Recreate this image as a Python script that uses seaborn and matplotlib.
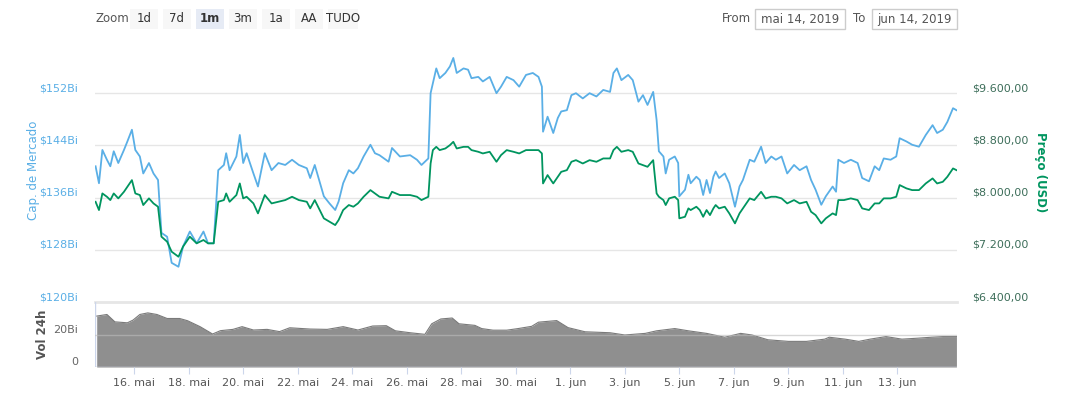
import matplotlib
matplotlib.use("Agg")
import matplotlib.pyplot as plt
from matplotlib.patches import Rectangle
import seaborn as sns
import pandas as pd

# hours since 2019-05-14 00:00
hours = [14,17,20,24,27,30,34,39,42,46,49,53,56,61,65,69,72,77,81,87,91,97,103,109,113,118,122,127,129,132,138,141,144,147,153,157,163,169,175,181,187,193,200,203,207,215,220,225,228,232,237,241,245,250,256,260,264,272,
         275,282,291,297,301,307,309,311,314,317,322,326,329,332,338,342,345,351,355,361,367,371,376,382,387,393,399,404,407,408,412,417,421,424,429,433,437,443,449,455,461,467,470,473,477,483,487,492,496,500,505,508,510,514,516,519,524,527,
         528,533,536,538,543,546,549,552,555,558,560,563,568,572,577,581,584,590,594,600,604,609,613,618,623,629,634,640,644,648,653,657,663,666,668,673,679,685,689,695,700,704,708,714,719,722,728,733,739,745,751,755,760,764,769,772]

market_cap = [140.8,138.2,143.3,141.8,140.8,143.1,141.3,143.3,144.6,146.4,143.3,142.3,139.7,141.3,139.7,138.7,130.6,130.0,126.0,125.4,128.5,130.8,129.0,130.8,129.0,129.0,140.2,141.0,142.8,140.2,142.3,145.6,141.3,142.8,139.7,137.7,142.8,140.2,141.3,141.0,141.8,141.0,140.5,139.0,141.0,136.2,135.1,134.1,135.4,138.2,140.2,139.7,140.5,142.3,144.1,142.8,142.5,141.5,
              143.6,142.3,142.5,141.8,141.0,142.0,152.0,153.5,155.8,154.3,155.1,156.1,157.4,155.1,155.8,155.6,154.3,154.5,153.8,154.5,152.0,153.0,154.5,154.0,153.0,154.8,155.1,154.5,153.0,146.1,148.4,145.9,148.2,149.2,149.4,151.7,152.0,151.2,152.0,151.5,152.5,152.2,155.1,155.8,154.0,154.8,154.0,150.7,151.7,150.2,152.2,147.9,143.1,142.3,139.7,141.8,142.3,141.3,
              136.2,137.2,139.5,138.2,139.2,138.7,136.4,138.7,136.7,139.2,140.0,139.0,139.7,138.2,134.6,137.7,138.7,141.8,141.5,143.8,141.3,142.3,141.8,142.3,139.7,141.0,140.2,140.8,138.7,137.2,134.9,136.2,137.7,136.9,141.8,141.3,141.8,141.3,139.0,138.5,140.8,140.2,142.0,141.8,142.3,145.1,144.6,144.1,143.8,145.6,147.1,145.9,146.4,147.6,149.7,149.4]

price = [7936,7809,8064,8013,7962,8064,7988,8089,8166,8268,8064,8039,7886,7988,7911,7860,7401,7324,7171,7094,7248,7401,7299,7350,7299,7299,7936,7962,8064,7936,8039,8217,7988,8013,7911,7758,8039,7911,7936,7962,8013,7962,7936,7835,7962,7682,7630,7579,7656,7809,7886,7860,7911,8013,8115,8064,8013,7988,
         8089,8039,8039,8013,7962,8013,8523,8728,8778,8728,8753,8804,8855,8753,8778,8778,8728,8702,8677,8702,8549,8651,8728,8702,8677,8728,8728,8728,8677,8217,8345,8217,8319,8395,8421,8549,8574,8523,8574,8549,8600,8600,8728,8778,8702,8728,8702,8523,8498,8472,8574,8064,8013,7962,7886,7988,8013,7962,
         7682,7706,7835,7809,7860,7809,7706,7809,7732,7835,7886,7835,7860,7758,7605,7758,7835,7988,7962,8089,7988,8013,8013,7988,7911,7962,7911,7936,7783,7732,7605,7682,7758,7732,7962,7962,7988,7962,7835,7809,7911,7911,7988,7988,8013,8192,8141,8115,8115,8217,8294,8217,8242,8319,8447,8421]

vol_hours = [15,24,31,42,47,53,60,68,77,88,95,106,117,124,135,143,153,165,176,185,203,218,232,245,258,270,278,291,304,310,318,328,334,348,354,364,376,386,398,404,420,430,445,467,480,498,508,524,536,552,568,582,592,606,624,640,656,660,674,686,696,710,724,738,750,760,772]
volume = [31.8,32.8,28.2,27.6,29.3,32.8,33.8,32.8,30.3,30.3,28.9,25.2,20.6,22.7,23.5,25.2,23.1,23.5,22.1,24.5,23.7,23.5,25.2,23.1,25.6,25.8,22.6,21.4,20.4,27,30,30.6,27,26,24,23,23,24,25.4,28,29,24.6,22,21.4,20,21,22.6,24,22.6,21,18.6,21,20,17,16,16,17.4,18.6,17.4,16,17.4,19,17.4,18,18.6,19,19]

cap_ticks = [120, 128, 136, 144, 152]
price_ticks = [6400, 7200, 8000, 8800, 9600]
price_labels = ["$6.400,00", "$7.200,00", "$8.000,00", "$8.800,00", "$9.600,00"]
date_hours = [48, 96, 144, 192, 240, 288, 336, 384, 432, 480, 528, 576, 624, 672, 720]
date_labels = ["16. mai", "18. mai", "20. mai", "22. mai", "24. mai", "26. mai", "28. mai", "30. mai",
               "1. jun", "3. jun", "5. jun", "7. jun", "9. jun", "11. jun", "13. jun"]
zoom_buttons = ["1d", "7d", "1m", "3m", "1a", "AA", "TUDO"]

BLUE = "#5aafe6"
GREEN = "#00955f"
W, H = 1075, 407
plt.rcParams["font.family"] = "DejaVu Sans"
fig = plt.figure(figsize=(W / 100, H / 100), dpi=100)

def fx(px): return px / W
def fy(py): return 1 - py / H

ax = fig.add_axes([fx(95), fy(302), fx(957 - 95), (302 - 41) / H])
ax2 = ax.twinx()
axv = fig.add_axes([fx(95), fy(367), fx(957 - 95), 65 / H])

df = pd.DataFrame({"h": hours, "cap": market_cap, "price": price})
sns.lineplot(data=df, x="h", y="cap", ax=ax, color=BLUE, lw=1.3, estimator=None, sort=False)
sns.lineplot(data=df, x="h", y="price", ax=ax2, color=GREEN, lw=1.3, estimator=None, sort=False)

xlim = (13.5, 772.5)
for a in (ax, ax2, axv):
    a.set_xlim(*xlim)
    for s in a.spines.values():
        s.set_visible(False)
ax.set_ylim(120, 160)
ax2.set_ylim(6400, 10400)
ax.set_yticks(cap_ticks)
ax.set_yticklabels([])
ax2.set_yticks(price_ticks)
ax2.set_yticklabels([])
ax.grid(axis="y", color="#e6e6e6", lw=1)
ax.set_axisbelow(True)
ax.tick_params(length=0)
ax2.tick_params(length=0)
ax.set_xticks([])
ax.set_xlabel(""); ax.set_ylabel(""); ax2.set_xlabel(""); ax2.set_ylabel("")

for v in cap_ticks:
    ax.text(-0.02, v, f"${v}Bi", transform=ax.get_yaxis_transform(), ha="right", va="bottom",
            color=BLUE, fontsize=8)
for v, l in zip(price_ticks, price_labels):
    ax2.text(1.017, v, l, transform=ax2.get_yaxis_transform(), ha="left", va="bottom",
             color="#3d6e5a", fontsize=8)

fig.text(fx(33), fy(170), "Cap. de Mercado", rotation=90, color=BLUE, fontsize=8.5,
         ha="center", va="center")
fig.text(fx(1041), fy(172), "Preço (USD)", rotation=-90, color=GREEN, fontsize=8.5,
         fontweight="bold", ha="center", va="center")
fig.text(fx(43), fy(334), "Vol 24h", rotation=90, color="#555555", fontsize=8.5,
         fontweight="bold", ha="center", va="center")

# volume
axv.fill_between(vol_hours, volume, 0, color="#8f8f8f", lw=0)
axv.plot(vol_hours, volume, color="#7a7a7a", lw=0.8)
axv.set_ylim(0, 40.6)
axv.set_yticks([0, 20])
axv.set_yticklabels([])
axv.grid(axis="y", color="#bdbdbd", lw=1, alpha=0.6)
axv.set_axisbelow(False)
axv.text(-0.02, 0, "0", transform=axv.get_yaxis_transform(), ha="right", va="bottom", color="#666666", fontsize=8)
axv.text(-0.02, 20, "20Bi", transform=axv.get_yaxis_transform(), ha="right", va="bottom", color="#666666", fontsize=8)
axv.axhline(40.6, color="#e6e6e6", lw=2, clip_on=False)
axv.axhline(0, color="#ccd6eb", lw=1)
axv.axvline(xlim[0], color="#ccd6eb", lw=1)
axv.set_xticks(date_hours)
axv.set_xticklabels(date_labels, fontsize=8, color="#555555")
axv.tick_params(axis="x", length=5, color="#ccd6eb", pad=3)
axv.tick_params(axis="y", length=0)

# toolbar
fig.text(fx(95), fy(19), "Zoom", fontsize=8.5, color="#555555", va="center")
bx = [130, 163, 196, 229, 262, 295, 328]
for x0, lab in zip(bx, zoom_buttons):
    sel = lab == "1m"
    w = 28 if lab != "TUDO" else 30
    fig.patches.append(Rectangle((fx(x0), fy(29)), fx(w), 20 / H, transform=fig.transFigure,
                                 facecolor="#e6ebf5" if sel else "#f7f7f7", edgecolor="none"))
    fig.text(fx(x0 + w / 2), fy(19), lab, fontsize=8.5, color="#333333", ha="center", va="center",
             fontweight="bold" if sel else "normal")
fig.text(fx(722), fy(19), "From", fontsize=8.5, color="#555555", va="center")
fig.text(fx(853), fy(19), "To", fontsize=8.5, color="#555555", va="center")
for x0, x1, t in [(755, 845, "mai 14, 2019"), (872, 957, "jun 14, 2019")]:
    fig.patches.append(Rectangle((fx(x0), fy(29)), fx(x1 - x0), 20 / H, transform=fig.transFigure,
                                 facecolor="white", edgecolor="#cccccc", lw=1))
    fig.text(fx((x0 + x1) / 2), fy(19), t, fontsize=8.5, color="#555555", ha="center", va="center")

fig.savefig("out.png", dpi=100)
